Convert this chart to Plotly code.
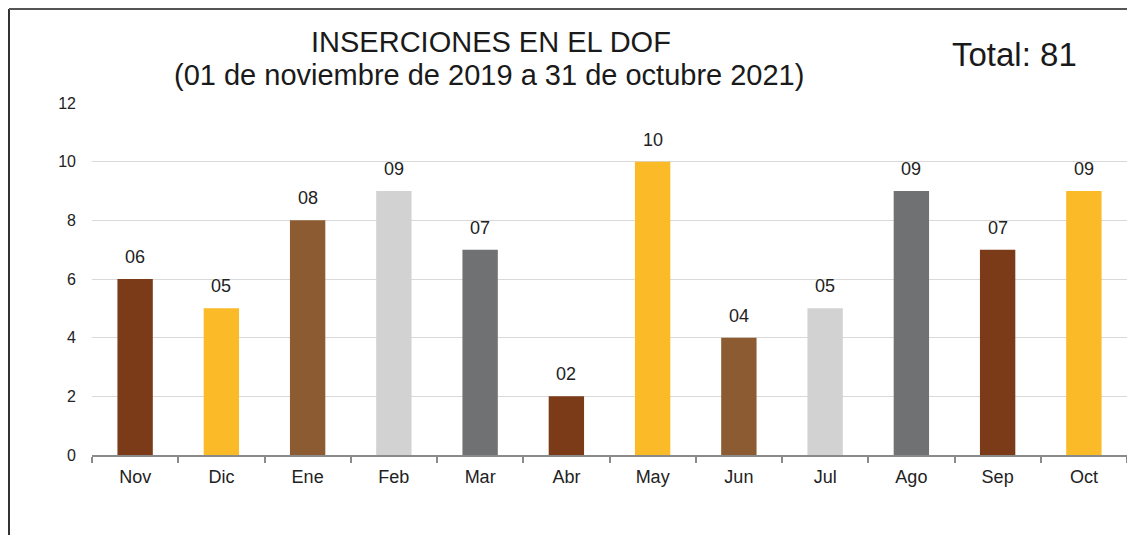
import plotly.graph_objects as go

months = ["Nov", "Dic", "Ene", "Feb", "Mar", "Abr", "May", "Jun", "Jul", "Ago", "Sep", "Oct"]
values = [6, 5, 8, 9, 7, 2, 10, 4, 5, 9, 7, 9]
labels = ["06", "05", "08", "09", "07", "02", "10", "04", "05", "09", "07", "09"]
palette = ["#7B3B18", "#FBBA27", "#8C5B32", "#D2D2D2", "#6F7173"]
colors = [palette[i % 5] for i in range(len(months))]
y_ticks = [0, 2, 4, 6, 8, 10, 12]

FONT = "Arial, Liberation Sans, sans-serif"

# page has an 8px body margin; figure drawn at (8,8)
OFF = 8
W, H = 1135 - OFF, 535 - OFF
L, R, T, B = 92 - OFF, 8, 103 - OFF, 80
pw, ph = W - L - R, H - T - B

def px_x(px):  # window pixel -> paper
    return (px - OFF - L) / pw

def px_y(py):
    return (535 - B - py) / ph

fig = go.Figure()
fig.add_trace(go.Bar(
    x=months, y=values, marker=dict(color=colors, line=dict(width=0)),
    width=0.41, hoverinfo="x+y",
))

for m, v, t in zip(months, values, labels):
    fig.add_annotation(x=m, y=v, text=t, showarrow=False, yanchor="bottom",
                       yshift=10, font=dict(family=FONT, size=18, color="#222222"))

fig.add_annotation(xref="paper", yref="paper", x=px_x(491), y=px_y(42),
                   text="INSERCIONES EN EL DOF",
                   showarrow=False, xanchor="center", yanchor="middle",
                   font=dict(family=FONT, size=29, color="#1a1a1a"))
fig.add_annotation(xref="paper", yref="paper", x=px_x(489), y=px_y(75),
                   text="(01 de noviembre de 2019 a 31 de octubre 2021)",
                   showarrow=False, xanchor="center", yanchor="middle",
                   font=dict(family=FONT, size=29, color="#1a1a1a"))
fig.add_annotation(xref="paper", yref="paper", x=px_x(1014), y=px_y(55),
                   text="Total: 81", showarrow=False, xanchor="center", yanchor="middle",
                   font=dict(family=FONT, size=33, color="#1a1a1a"))

# frame lines (left and top)
fig.add_shape(type="line", xref="paper", yref="paper", x0=px_x(9), x1=px_x(9),
              y0=px_y(9), y1=px_y(545), line=dict(color="#333333", width=2))
fig.add_shape(type="line", xref="paper", yref="paper", x0=px_x(9), x1=px_x(1136),
              y0=px_y(9), y1=px_y(9), line=dict(color="#555555", width=2))

fig.update_layout(
    width=W, height=H,
    margin=dict(l=L, r=R, t=T, b=B),
    paper_bgcolor="white", plot_bgcolor="white",
    showlegend=False,
    font=dict(family=FONT, color="#222222"),
    xaxis=dict(
        type="category", categoryorder="array", categoryarray=months,
        showline=True, linecolor="#8a8a8a", linewidth=2,
        ticks="outside", tickson="boundaries", ticklen=6, tickcolor="#8a8a8a", tickwidth=2,
        tickfont=dict(family=FONT, size=18, color="#222222"),
        showgrid=False, range=[-0.5, 11.5],
        ticklabelstandoff=4,
    ),
    yaxis=dict(
        range=[0, 12], tickvals=y_ticks, ticktext=[str(v) for v in y_ticks],
        showgrid=True, gridcolor="#d9d9d9", gridwidth=1,
        showline=False, zeroline=False, ticks="",
        tickfont=dict(family=FONT, size=16, color="#222222"),
        ticklabelstandoff=15,
    ),
)

fig.write_html("out.html")
